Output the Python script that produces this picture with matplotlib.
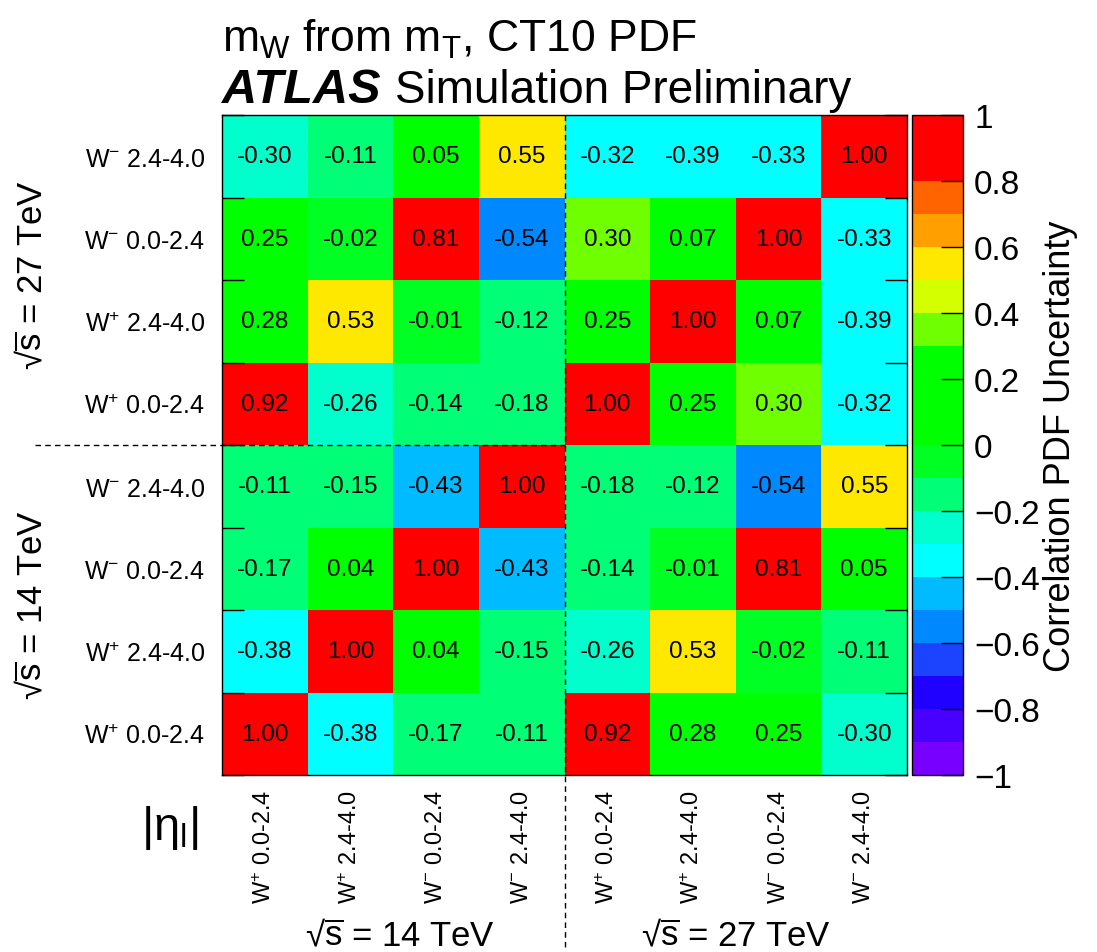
import numpy as np
import matplotlib.pyplot as plt
from matplotlib.colors import ListedColormap, BoundaryNorm

plt.rcParams['font.family'] = ['Liberation Sans', 'DejaVu Sans']
plt.rcParams['mathtext.fontset'] = 'custom'
plt.rcParams['mathtext.rm'] = 'Liberation Sans'
plt.rcParams['mathtext.it'] = 'Liberation Sans:italic'
plt.rcParams['mathtext.bf'] = 'Liberation Sans:bold'

# bins, left->right on x and bottom->top on y (14 TeV first, then 27 TeV)
bin_labels = [r"W$^{+}$ 0.0-2.4", r"W$^{+}$ 2.4-4.0",
              r"W$^{-}$ 0.0-2.4", r"W$^{-}$ 2.4-4.0"] * 2

# correlation matrix, row 0 = bottom row
row0 = [1.00, -0.38, -0.17, -0.11, 0.92, 0.28, 0.25, -0.30]
row1 = [-0.38, 1.00, 0.04, -0.15, -0.26, 0.53, -0.02, -0.11]
row2 = [-0.17, 0.04, 1.00, -0.43, -0.14, -0.01, 0.81, 0.05]
row3 = [-0.11, -0.15, -0.43, 1.00, -0.18, -0.12, -0.54, 0.55]
row4 = [0.92, -0.26, -0.14, -0.18, 1.00, 0.25, 0.30, -0.32]
row5 = [0.28, 0.53, -0.01, -0.12, 0.25, 1.00, 0.07, -0.39]
row6 = [0.25, -0.02, 0.81, -0.54, 0.30, 0.07, 1.00, -0.33]
row7 = [-0.30, -0.11, 0.05, 0.55, -0.32, -0.39, -0.33, 1.00]
corr = np.array([row0, row1, row2, row3, row4, row5, row6, row7])

# ROOT-like 20 step palette from -1 to 1
palette = ["#7800ff", "#4800ff", "#2000ff", "#1c44ff", "#0088ff",
           "#00bbff", "#00ffff", "#00ffcc", "#00ff77", "#00ff22",
           "#00ff00", "#00ff00", "#00ff00", "#70ff00", "#d4ff00",
           "#ffe800", "#ffa000", "#ff6400", "#ff0000", "#ff0000"]
cbar_ticks = [-1, -0.8, -0.6, -0.4, -0.2, 0, 0.2, 0.4, 0.6, 0.8, 1]
cbar_labels = ["\u22121", "\u22120.8", "\u22120.6", "\u22120.4", "\u22120.2",
               "0", "0.2", "0.4", "0.6", "0.8", "1"]

sqrt_s = "\u221a$\\overline{\\mathrm{s}}$"

W, H = 1097, 953
fig = plt.figure(figsize=(W / 100, H / 100), dpi=100)
ax = fig.add_axes([222 / W, 1 - 776 / H, 685 / W, 660 / H])

cmap = ListedColormap(palette)
norm = BoundaryNorm(np.round(np.linspace(-1, 1, 21), 2), cmap.N)
n = len(bin_labels)
mesh = ax.pcolormesh(np.arange(n + 1), np.arange(n + 1), corr, cmap=cmap, norm=norm)

for i in range(n):
    for j in range(n):
        ax.text(j + 0.5, i + 0.5, f"{corr[i, j]:.2f}", ha='center', va='center',
                fontsize=17.5, color='black')

ax.set_xlim(0, n)
ax.set_ylim(0, n)
ax.set_xticks(np.arange(n) + 0.5)
ax.set_xticklabels(bin_labels, rotation=90, fontsize=17)
ax.set_yticks(np.arange(n) + 0.5)
ax.set_yticklabels(bin_labels, fontsize=18)
ax.tick_params(which='major', length=0, pad=12)
ax.tick_params(axis='x', which='major', pad=10)
ax.set_yticks(np.arange(n + 1), minor=True)
ax.tick_params(which='minor', direction='in', length=16, width=1,
               right=True, left=True)
for s in ax.spines.values():
    s.set_linewidth(1)

# separators between the two energies
ax.plot([4, 4], [8, -2.12], color='black', lw=1, ls=(0, (4, 3)), clip_on=False)
ax.plot([-2.18, 4], [4, 4], color='black', lw=1, ls=(0, (4, 3)), clip_on=False)

# colour bar
cax = fig.add_axes([912 / W, 1 - 776 / H, 51 / W, 660 / H])
cb = fig.colorbar(mesh, cax=cax)
cb.set_ticks(cbar_ticks, labels=cbar_labels)
cb.ax.minorticks_off()
cb.ax.tick_params(direction='in', length=16, width=1, labelsize=24, pad=8)
cb.outline.set_linewidth(1)
cb.set_label("Correlation PDF Uncertainty", fontsize=26, labelpad=2)

# titles
fig.text(222 / W, 1 - 52 / H, r"m$_{\mathrm{W}}$ from m$_{\mathrm{T}}$, CT10 PDF", fontsize=32)
fig.text(222 / W, 1 - 103 / H, "ATLAS", fontsize=35, fontweight='bold', fontstyle='italic')
fig.text(395 / W, 1 - 103 / H, "Simulation Preliminary", fontsize=33)

# group labels
fig.text(33 / W, 1 - 275 / H, sqrt_s + " = 27 TeV", fontsize=25,
         rotation=90, ha='center', va='center')
fig.text(33 / W, 1 - 605 / H, sqrt_s + " = 14 TeV", fontsize=25,
         rotation=90, ha='center', va='center')
fig.text(400 / W, 1 - 937 / H, sqrt_s + " = 14 TeV", fontsize=25,
         ha='center', va='center')
fig.text(736 / W, 1 - 937 / H, sqrt_s + " = 27 TeV", fontsize=25,
         ha='center', va='center')
fig.text(170 / W, 1 - 828 / H, r"|η$_{\mathrm{l}}$|", fontsize=34,
         ha='center', va='center')

fig.savefig("out.png", dpi=100)
